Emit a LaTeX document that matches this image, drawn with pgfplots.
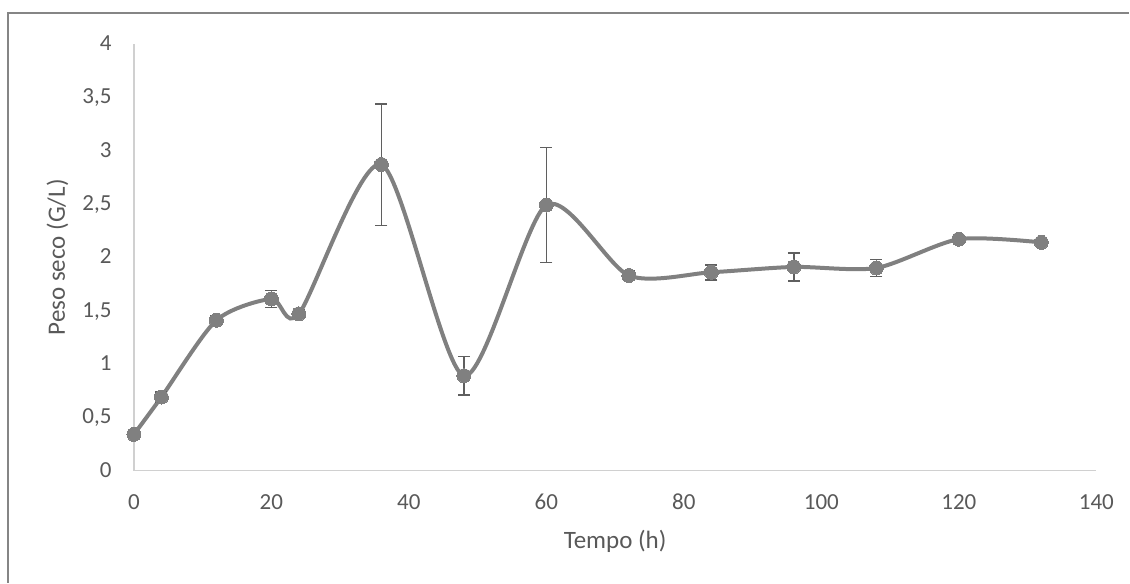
\documentclass[border=0pt]{standalone}
\usepackage{fontspec}
\setmainfont{Carlito}
\usepackage{pgfplots}
\pgfplotsset{compat=1.18}

\definecolor{linegray}{HTML}{808080}
\definecolor{errgray}{HTML}{5F5F5F}
\definecolor{txtgray}{HTML}{595959}
\definecolor{axgray}{HTML}{D0D0D0}
\definecolor{framegray}{HTML}{858585}

\begin{document}
\begin{tikzpicture}
\begin{axis}[
    scale only axis,
    width=481.5pt, height=213.5pt,
    xmin=0, xmax=140, ymin=0, ymax=4,
    xtick={0,20,...,140},
    ytick={0,0.5,...,4},
    axis x line=bottom, axis y line=left,
    axis line style={color=axgray, line width=0.75pt, -},
    major tick length=0pt,
    clip=false,
    /pgf/number format/use comma,
    /pgf/number format/assume math mode=true,
    tick label style={color=txtgray, font=\fontsize{11.5}{13}\selectfont, inner sep=0pt},
    xticklabel style={anchor=base, yshift=-19.5pt},
    yticklabel style={anchor=base east, xshift=-11pt, yshift=-0.32em},
    xlabel={Tempo (h)},
    ylabel={Peso seco (G/L)},
    label style={color=txtgray, font=\fontsize{12.5}{15}\selectfont, inner sep=0pt},
    xlabel style={at={([yshift=-39pt]axis description cs:0.5,0)}, anchor=base},
    ylabel style={at={([xshift=-34.5pt]axis description cs:0,0.5)}, anchor=base},
]
% bounding box = picture size, and the chart frame (left and top visible)
\path (rel axis cs:-0.13915,-0.26230) rectangle (rel axis cs:1.03427,1.10304);
\draw[color=framegray, line width=0.7pt]
    (rel axis cs:-0.13084,-0.26230) -- (rel axis cs:-0.13084,1.07260) -- (rel axis cs:1.03427,1.07260);

\addplot[color=linegray, line width=2pt, smooth, tension=0.45,
    mark=*, mark size=3.5pt, mark options={fill=linegray, draw=linegray, line width=0pt},
    error bars/.cd, y dir=both, y explicit,
    error bar style={color=errgray, line width=0.8pt},
    error mark options={rotate=90, mark size=3pt, line width=0.8pt, color=errgray}]
table[x=x, y=y, y error=e] {
x   y    e
0   0.34 0.02
4   0.69 0.05
12  1.41 0.04
20  1.61 0.08
24  1.47 0.04
36  2.87 0.57
48  0.89 0.18
60  2.49 0.54
72  1.83 0.04
84  1.86 0.07
96  1.91 0.13
108 1.90 0.08
120 2.17 0.03
132 2.14 0.01
};
\end{axis}
\end{tikzpicture}
\end{document}
